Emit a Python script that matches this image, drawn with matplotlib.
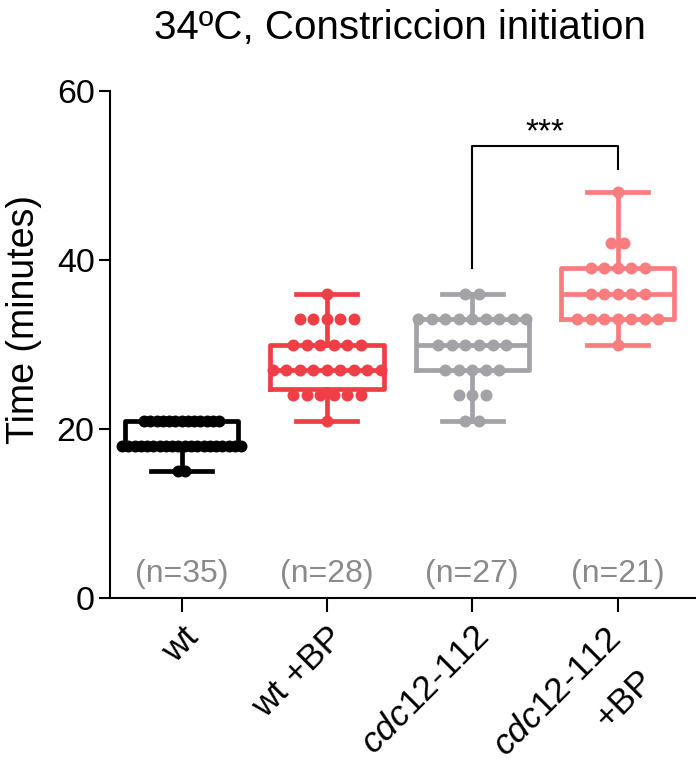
import numpy as np
import matplotlib
matplotlib.use("Agg")
import matplotlib.pyplot as plt
from matplotlib.transforms import ScaledTranslation

plt.rcParams['font.family'] = ['Liberation Sans', 'DejaVu Sans']
plt.rcParams['mathtext.fontset'] = 'custom'
plt.rcParams['mathtext.it'] = 'Liberation Sans:italic'
plt.rcParams['mathtext.rm'] = 'Liberation Sans'

# data: time values and how many cells sit at each
wt_values = [15, 18, 21]
wt_counts = [2, 20, 13]
wtbp_values = [21, 24, 27, 30, 33, 36]
wtbp_counts = [1, 6, 9, 6, 5, 1]
cdc_values = [21, 24, 27, 30, 33, 36]
cdc_counts = [2, 3, 5, 6, 9, 2]
cdcbp_values = [30, 33, 36, 39, 42, 48]
cdcbp_counts = [1, 7, 5, 5, 2, 1]

labels = ['wt', 'wt +BP', r'$\mathit{cdc12}$-$\mathit{112}$',
          r'$\mathit{cdc12}$-$\mathit{112}$']
n_labels = ['(n=35)', '(n=28)', '(n=27)', '(n=21)']
colors = ['#000000', '#EF3E45', '#A2A2A7', '#F97D7F']

groups = [(wt_values, wt_counts), (wtbp_values, wtbp_counts),
          (cdc_values, cdc_counts), (cdcbp_values, cdcbp_counts)]

fig = plt.figure(figsize=(6.96, 7.7), dpi=100)
ax = fig.add_axes([110 / 696, 172 / 770, 586 / 696, 507 / 770])

stats = []
for vals, cnts in groups:
    d = np.repeat(vals, cnts)
    q1, med, q3 = np.percentile(d, [25, 50, 75], method='weibull')
    stats.append(dict(med=med, q1=q1, q3=q3, whislo=d.min(), whishi=d.max()))

for i, (vals, cnts) in enumerate(groups):
    c = colors[i]
    ax.bxp([stats[i]], positions=[i], widths=0.78, capwidths=0.42,
           showfliers=False, patch_artist=False,
           boxprops=dict(color=c, linewidth=3.4),
           whiskerprops=dict(color=c, linewidth=3.4),
           capprops=dict(color=c, linewidth=3.4),
           medianprops=dict(color=c, linewidth=3.4))
    # spread each row of equal values sideways, like the prism dot plot
    spacing = min(0.093, 0.82 / (max(cnts) - 1))
    for v, n in zip(vals, cnts):
        xs = i + (np.arange(n) - (n - 1) / 2) * spacing
        ax.scatter(xs, [v] * n, s=74, color=c, linewidths=0, zorder=3)
    ax.text(i, 2.8, n_labels[i], ha='center', va='center',
            fontsize=23, color='#8A8A8A')

# significance bracket
ax.plot([2, 2, 3, 3], [39, 53.5, 53.5, 50.8], color='black', lw=1.5)
ax.text(2.5, 55.0, '***', ha='center', va='center', fontsize=24)

ax.set_xlim(-0.493, 3.54)
ax.set_ylim(0, 60)
ax.set_yticks([0, 20, 40, 60])
ax.set_xticks(range(4))
ax.set_xticklabels(labels, rotation=45, ha='right', va='top',
                   rotation_mode='anchor', fontsize=25.5)
ax.tick_params(axis='y', labelsize=24.5, width=1.5, length=8, pad=3)
ax.tick_params(axis='x', width=1.5, length=10, pad=6)
for s in ['top', 'right']:
    ax.spines[s].set_visible(False)
for s in ['left', 'bottom']:
    ax.spines[s].set_linewidth(1.5)

# last label has a second line "+BP" (upright), drawn as its own text
last = ax.get_xticklabels()[-1]
last.set_transform(last.get_transform() +
                   ScaledTranslation(-0.13, -0.02, fig.dpi_scale_trans))
ax.text(3, 0, '+BP', rotation=45, ha='right', va='top',
        rotation_mode='anchor', fontsize=25.5,
        transform=ax.get_xaxis_transform() +
        ScaledTranslation(0.19, -0.66, fig.dpi_scale_trans))

ax.set_ylabel('Time (minutes)', fontsize=27)
ax.yaxis.set_label_coords(-0.116, 0.55)

fig.text(400 / 696, 1 - 28 / 770, '34ºC, Constriccion initiation',
         ha='center', va='center', fontsize=29)

plt.savefig('out.png', dpi=100)
